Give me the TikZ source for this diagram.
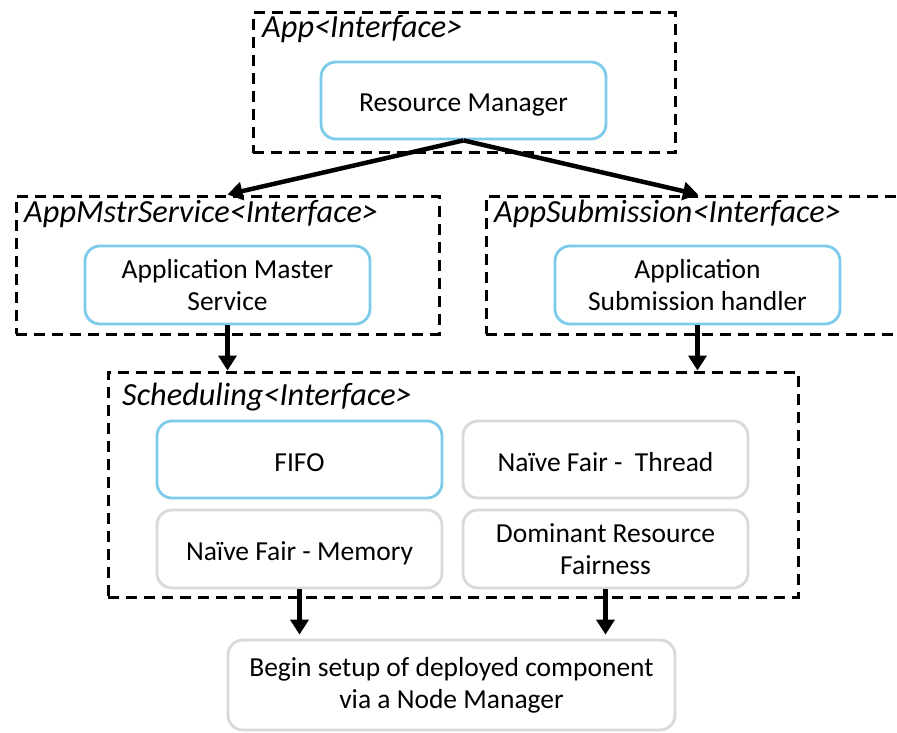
\documentclass[tikz,border=0pt]{standalone}
\usepackage{fontspec}
\setmainfont{Carlito}
\usetikzlibrary{arrows.meta}
\definecolor{skyline}{HTML}{7CCBEA}
\definecolor{greyline}{HTML}{D9D9D9}
% single-line box text, set on a baseline a little below the box centre
\newcommand{\oneline}[1]{\raisebox{-11.5pt}[0pt][0pt]{#1}}
\tikzset{
  group/.style={draw=black, line width=3pt, dash pattern=on 11pt off 7pt,
                minimum width=#1, inner sep=0pt},
  comp/.style={draw=skyline, line width=2.8pt, rounded corners=15pt,
               minimum width=285pt, minimum height=77pt, align=center,
               font=\fontsize{27.5}{32}\selectfont, inner sep=0pt},
  plain/.style={comp, draw=greyline},
  tag/.style={anchor=base west, inner sep=0pt, font=\fontsize{32.3}{36}\selectfont\itshape},
  flow/.style={line width=4.5pt, -{Triangle[length=15pt,width=18pt]}}
}
\begin{document}
\begin{tikzpicture}[x=1pt,y=-1pt]
\useasboundingbox (0,0) rectangle (897,733);
\fill[white] (0,0) rectangle (897,733);
\clip (0,0) rectangle (897,733);

% interface groups (dashed)
\node[group=422pt, minimum height=140pt] (app)  at (464,83) {};
\node[group=423pt, minimum height=138pt] (amsg) at (227.5,265) {};
\node[group=424pt, minimum height=138pt] (asg)  at (698,265) {};
\node[group=690pt, minimum height=225pt] (sched) at (453,484.5) {};

\node[tag] (tapp)   at (262,38)  {App<Interface>};
\node[tag] (tamsg)  at (24,222)  {AppMstrService<Interface>};
\node[tag] (tasg)   at (494,222) {AppSubmission<Interface>};
\node[tag] (tsched) at (122,405) {Scheduling<Interface>};

% components
\node[comp] (rm)   at (463.5,100.5) {\oneline{Resource Manager}};
\node[comp, minimum height=78pt] (ams) at (227.5,285) {Application Master\\Service};
\node[comp, minimum height=78pt] (ash) at (697.5,285) {Application\\Submission handler};
\node[comp]  (fifo) at (299.5,459.5) {\oneline{FIFO}};
\node[plain] (nft)  at (605.5,459.5) {\oneline{Naïve Fair -\ \ Thread}};
\node[plain, minimum height=78pt] (nfm) at (299.5,549) {\oneline{Naïve Fair - Memory}};
\node[plain, minimum height=78pt] (drf) at (605.5,549) {Dominant Resource\\Fairness};
\node[plain, minimum width=447pt, minimum height=90pt] (nm) at (451.5,685)
  {Begin setup of deployed component\\via a Node Manager};

% flow between interfaces
\draw[flow] (rm.south) -- (amsg.north);
\draw[flow] (rm.south) -- (asg.north);
\draw[flow] (ams.south) -- (ams.south |- sched.north);
\draw[flow] (ash.south) -- (ash.south |- sched.north);
\draw[flow, shorten >=4pt] (nfm.south) -- (nfm.south |- nm.north);
\draw[flow, shorten >=4pt] (drf.south) -- (drf.south |- nm.north);
\end{tikzpicture}
\end{document}
